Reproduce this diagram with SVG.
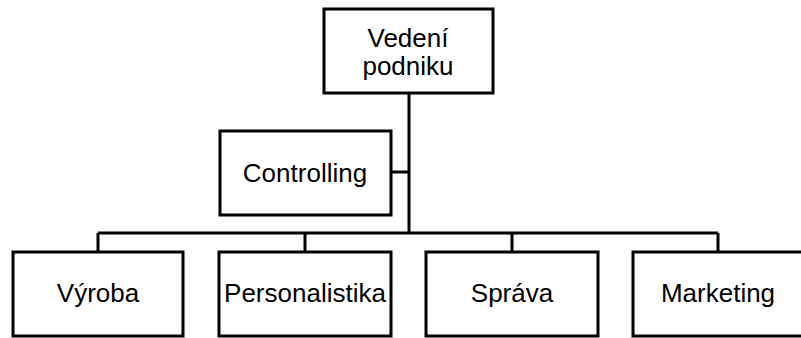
<svg xmlns="http://www.w3.org/2000/svg" width="801" height="338" viewBox="0 0 801 338">
<style>
.box{fill:#fff;stroke:#000;stroke-width:3}
.ln{fill:none;stroke:#000;stroke-width:3}
.t{font-family:"Liberation Sans",Arial,sans-serif;font-size:26px;fill:#000;text-anchor:middle}
</style>
<rect width="801" height="338" fill="#fff"/>
<g id="connectors">
<path class="ln" d="M409 93V233M391 172H409M98 233H718M98 233V252M305 233V252M512 233V252M718 233V252"/>
</g>
<g id="vedeni">
<rect class="box" x="324" y="9" width="169" height="84"/>
<text class="t" x="408" y="47">Vedení</text>
<text class="t" x="408" y="75">podniku</text>
</g>
<g id="controlling">
<rect class="box" x="220" y="131" width="171" height="84"/>
<text class="t" x="305" y="182">Controlling</text>
</g>
<g id="vyroba">
<rect class="box" x="13" y="252" width="170" height="84"/>
<text class="t" x="98" y="302">Výroba</text>
</g>
<g id="personalistika">
<rect class="box" x="219" y="252" width="172" height="84"/>
<text class="t" x="305" y="302">Personalistika</text>
</g>
<g id="sprava">
<rect class="box" x="426" y="252" width="172" height="84"/>
<text class="t" x="512" y="302">Správa</text>
</g>
<g id="marketing">
<rect class="box" x="633" y="252" width="171" height="84"/>
<text class="t" x="718" y="302">Marketing</text>
</g>
</svg>
